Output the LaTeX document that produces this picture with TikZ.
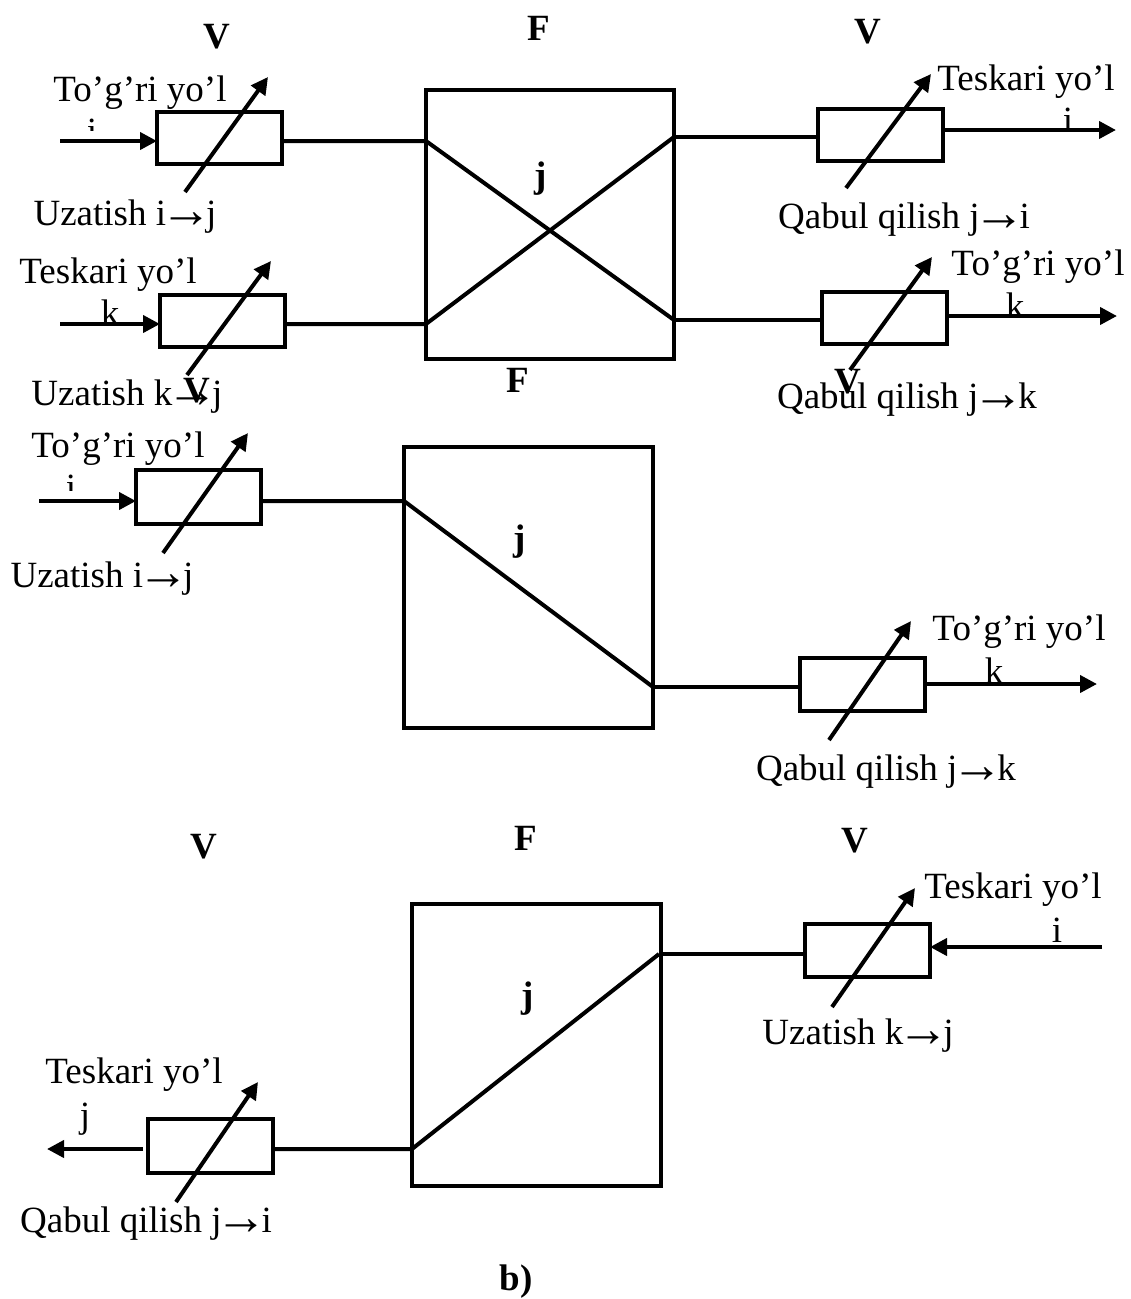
\documentclass[tikz,border=0pt]{standalone}
\usepackage{fontspec}
\setmainfont{Liberation Serif}
\usepackage{tikz}
\usetikzlibrary{arrows.meta,positioning,calc}
\newcommand{\arw}{\kern-6pt\smash{\fontsize{52}{42}\selectfont\raisebox{-2pt}{→}}\kern-6pt}

\begin{document}
\begin{tikzpicture}[
    x=1pt, y=-1pt,
    fbox/.style={draw, line width=4pt, outer sep=0pt, minimum width=249pt, minimum height=281pt},
    vbox/.style={draw, line width=4pt, outer sep=0pt, minimum width=125pt, minimum height=52pt},
    wire/.style={line width=4pt},
    sig/.style={line width=4pt, -{Triangle[length=17pt,width=17pt]}},
    lbl/.style={font=\fontsize{37}{42}\selectfont, inner sep=0pt, anchor=base},
    hd/.style={lbl, font=\fontsize{37}{42}\selectfont\bfseries}
]
\useasboundingbox (0,0) rectangle (1131,1299);

% upper block
\node[fbox, minimum width=248pt, minimum height=269pt] (fa) at (550,224.5) {};
\node[vbox] (va) at (219.5,138) {};
\node[vbox] (vb) at (880.5,134.5) {};
\node[vbox] (vc) at (222.5,321) {};
\node[vbox] (vd) at (884,318) {};

\coordinate (ia) at (60,141);
\coordinate (ib) at (60,324);
\coordinate (oa) at (674,137);
\coordinate (ob) at (674,320);
\coordinate (oc) at (1116,130);
\coordinate (od) at (1117,316);

\draw[sig] (ia) -- (ia -| va.west);
\draw[sig] (ib) -- (ib -| vc.west);
\draw[wire] (ia -| va.east) -- (ia -| fa.west) -- (ob);
\draw[wire] (ib -| vc.east) -- (ib -| fa.west) -- (oa);
\draw[wire] (oa) -- (oa -| vb.west);
\draw[wire] (ob) -- (ob -| vd.west);
\draw[sig] (oc -| vb.east) -- (oc);
\draw[sig] (od -| vd.east) -- (od);

\coordinate (ta0) at (185,192);
\coordinate (ta1) at (268,77);
\coordinate (tb0) at (846,188);
\coordinate (tb1) at (931,74);
\coordinate (tc0) at (187,375);
\coordinate (tc1) at (271,261);
\coordinate (td0) at (850,370);
\coordinate (td1) at (932,257);
\foreach \t in {a,b,c,d} \draw[sig] (t\t0) -- (t\t1);

\node[hd] (hva) at (217,48) {V};
\node[hd] (hfa) at (539,40) {F};
\node[hd] (hvb) at (868,43) {V};
\node[hd] (ja) at (541,187) {j};
\node[lbl] (la) at (140,101) {To’g’ri yo’l};
\begin{scope}
\clip (70,100) rectangle (120,130);
\node[lbl] (lai) at (92,143) {i};
\end{scope}
\node[lbl] (lb) at (125,225) {Uzatish i\arw j};
\node[lbl] (lc) at (108,283) {Teskari yo’l};
\node[lbl] (lck) at (110,325) {k};
\node[lbl] (ld) at (127,405) {Uzatish k\arw j};
\node[hd] (hvc) at (197,402) {V};
\node[hd] (hfb) at (518,392) {F};
\node[lbl] (le) at (1026,90) {Teskari yo’l};
\node[lbl] (lei) at (1068,132) {i};
\node[lbl] (lf) at (904,228) {Qabul qilish j\arw i};
\node[lbl] (lg) at (1038,275) {To’g’ri yo’l};
\node[lbl] (lgk) at (1015,318) {k};
\node[hd] (hvd) at (848,393) {V};
\node[lbl] (lh) at (907,408) {Qabul qilish j\arw k};

% middle block
\node[fbox] (fb) at (528.5,587.5) {};
\node[vbox, minimum height=54pt] (ve) at (198.5,497) {};
\node[vbox, minimum height=53pt] (vf) at (862.5,684.5) {};

\coordinate (ic) at (39,501);
\coordinate (oe) at (653,687);
\coordinate (of) at (1097,684);

\draw[sig] (ic) -- (ic -| ve.west);
\draw[wire] (ic -| ve.east) -- (ic -| fb.west) -- (oe);
\draw[wire] (oe) -- (oe -| vf.west);
\draw[sig] (of -| vf.east) -- (of);

\coordinate (te0) at (163,553);
\coordinate (te1) at (248,433);
\coordinate (tf0) at (829,740);
\coordinate (tf1) at (911,621);
\foreach \t in {e,f} \draw[sig] (t\t0) -- (t\t1);

\node[hd] (jb) at (520,550) {j};
\node[lbl] (li) at (118,457) {To’g’ri yo’l};
\begin{scope}
\clip (50,470) rectangle (90,490);
\node[lbl] (lii) at (71,499) {i};
\end{scope}
\node[lbl] (lj) at (102,587) {Uzatish i\arw j};
\node[lbl] (lk) at (1019,640) {To’g’ri yo’l};
\node[lbl] (lkk) at (994,683) {k};
\node[lbl] (ll) at (886,780) {Qabul qilish j\arw k};

% lower block
\node[fbox, minimum height=282pt] (fc) at (536.5,1045) {};
\node[vbox, minimum height=53pt] (vg) at (867.5,950.5) {};
\node[vbox, minimum height=54pt] (vh) at (210,1145.5) {};

\coordinate (ig) at (1102,947);
\coordinate (og) at (659,954);
\coordinate (oh) at (47,1149);
\coordinate (oi) at (143,1149);

\draw[sig] (ig) -- (ig -| vg.east);
\draw[wire] (og) -- (og -| vg.west);
\draw[wire] (oh -| vh.east) -- (oh -| fc.west) -- (og);
\draw[sig] (oi) -- (oh);

\coordinate (tg0) at (832,1007);
\coordinate (tg1) at (915,888);
\coordinate (th0) at (176,1202);
\coordinate (th1) at (258,1082);
\foreach \t in {g,h} \draw[sig] (t\t0) -- (t\t1);

\node[hd] (hve) at (204,858) {V};
\node[hd] (hfc) at (526,850) {F};
\node[hd] (hvf) at (855,852) {V};
\node[hd] (jc) at (528,1007) {j};
\node[lbl] (lm) at (1013,898) {Teskari yo’l};
\node[lbl] (lmi) at (1057,942) {i};
\node[lbl] (ln) at (858,1044) {Uzatish k\arw j};
\node[lbl] (lo) at (134,1083) {Teskari yo’l};
\node[lbl] (loj) at (85,1127) {j};
\node[lbl] (lp) at (146,1232) {Qabul qilish j\arw i};
\node[hd] (hb) at (516,1290) {b)};
\end{tikzpicture}
\end{document}
